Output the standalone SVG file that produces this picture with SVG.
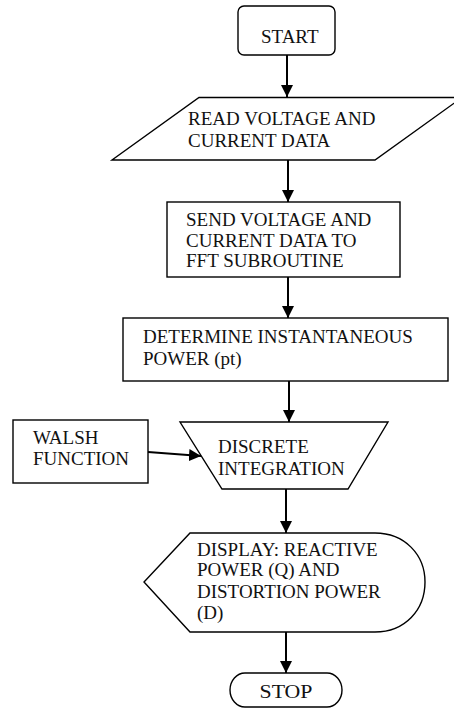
<svg xmlns="http://www.w3.org/2000/svg" width="454" height="709" viewBox="0 0 454 709">
<style>
.s{fill:#fff;stroke:#000;stroke-width:1.4}
.t{font-size:19px;fill:#111}
.c{stroke:#000;stroke-width:2;fill:none}
</style>
<defs>
<marker id="ah" viewBox="0 0 12 12" refX="12" refY="6" markerWidth="12" markerHeight="12" markerUnits="userSpaceOnUse" orient="auto">
<path d="M0,0 L12,6 L0,12 Z" fill="#000"/>
</marker>
</defs>
<rect width="454" height="709" fill="#fff"/>
<g font-family="'Liberation Serif', 'DejaVu Serif', serif">
<g id="start">
<rect class="s" x="238" y="6" width="97" height="49" rx="6"/>
<text class="t" x="261" y="43">START</text>
</g>
<g id="read">
<path class="s" d="M199,97.5 L462,97.5 L375,160 L112,160 Z"/>
<text class="t" x="188" y="125">READ VOLTAGE AND</text>
<text class="t" x="188" y="147">CURRENT DATA</text>
</g>
<g id="send">
<rect class="s" x="167" y="202" width="233" height="75"/>
<text class="t" x="186" y="226">SEND VOLTAGE AND</text>
<text class="t" x="186" y="247">CURRENT DATA TO</text>
<text class="t" x="186" y="267">FFT SUBROUTINE</text>
</g>
<g id="determine">
<rect class="s" x="123" y="318" width="325" height="63"/>
<text class="t" x="143" y="343">DETERMINE INSTANTANEOUS</text>
<text class="t" x="143" y="365">POWER (pt)</text>
</g>
<g id="walsh">
<rect class="s" x="13" y="420" width="135" height="63"/>
<text class="t" x="33" y="444">WALSH</text>
<text class="t" x="33" y="465">FUNCTION</text>
</g>
<g id="integration">
<path class="s" d="M180,422 L388,422 L348,489 L222,489 Z"/>
<text class="t" x="218" y="453">DISCRETE</text>
<text class="t" x="218" y="475">INTEGRATION</text>
</g>
<g id="display">
<path class="s" d="M190,533 L375,533 C405,533 425,555 425,582 C425,610 405,632 375,632 L190,632 L144,582 Z"/>
<text class="t" x="197" y="556">DISPLAY: REACTIVE</text>
<text class="t" x="197" y="576">POWER (Q) AND</text>
<text class="t" x="197" y="598">DISTORTION POWER</text>
<text class="t" x="197" y="619">(D)</text>
</g>
<g id="stop">
<rect class="s" x="230" y="673" width="112" height="34" rx="15" ry="17"/>
<text class="t" x="286" y="698" text-anchor="middle" textLength="53" lengthAdjust="spacingAndGlyphs">STOP</text>
</g>
</g>
<g id="connectors">
<line class="c" x1="287" y1="55" x2="287" y2="97" marker-end="url(#ah)"/>
<line class="c" x1="288" y1="160" x2="288" y2="202" marker-end="url(#ah)"/>
<line class="c" x1="288" y1="277" x2="288" y2="318" marker-end="url(#ah)"/>
<line class="c" x1="289" y1="381" x2="289" y2="422" marker-end="url(#ah)"/>
<line class="c" x1="148" y1="452" x2="201" y2="456" marker-end="url(#ah)"/>
<line class="c" x1="286" y1="489" x2="286" y2="533" marker-end="url(#ah)"/>
<line class="c" x1="286" y1="632" x2="286" y2="673" marker-end="url(#ah)"/>
</g>
</svg>
